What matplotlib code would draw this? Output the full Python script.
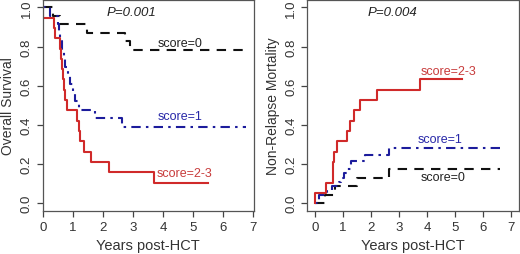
import matplotlib
matplotlib.use("Agg")
import matplotlib.pyplot as plt

plt.rcParams['font.family'] = ['Liberation Sans', 'DejaVu Sans']

# ---- Overall survival (left panel) ----
os0_t = [0.0, 0.33, 0.58, 1.47, 2.72, 2.9, 6.66]
os0_v = [1.0, 0.957, 0.913, 0.870, 0.826, 0.783, 0.783]

os1_t = [0.0, 0.25, 0.5, 0.53, 0.58, 0.64, 0.7, 0.75, 0.85, 0.92, 1.0, 1.07, 1.2, 1.74, 2.63, 6.78]
os1_v = [1.0, 0.957, 0.913, 0.870, 0.826, 0.783, 0.739, 0.696, 0.652, 0.609, 0.565, 0.522, 0.478, 0.435, 0.391, 0.391]

os2_t = [0.0, 0.02, 0.36, 0.42, 0.56, 0.6, 0.64, 0.68, 0.7, 0.75, 0.8, 1.13, 1.2, 1.25, 1.38, 1.61, 2.22, 3.71, 5.51]
os2_v = [1.0, 0.947, 0.895, 0.842, 0.789, 0.737, 0.684, 0.632, 0.579, 0.526, 0.474, 0.421, 0.368, 0.316, 0.263, 0.211, 0.158, 0.105, 0.105]

# ---- Non-relapse mortality (right panel) ----
nrm0_t = [0.0, 0.35, 0.72, 1.5, 2.64, 6.62]
nrm0_v = [0.0, 0.043, 0.087, 0.130, 0.174, 0.174]

nrm1_t = [0.0, 0.15, 0.45, 0.6, 0.85, 0.95, 1.05, 1.15, 1.28, 1.78, 2.63, 6.72]
nrm1_v = [0.0, 0.043, 0.065, 0.087, 0.109, 0.130, 0.152, 0.174, 0.217, 0.245, 0.280, 0.280]

nrm2_t = [0.0, 0.0, 0.39, 0.63, 0.66, 0.7, 0.78, 1.16, 1.26, 1.38, 1.6, 2.23, 3.74, 5.26]
nrm2_v = [0.0, 0.053, 0.105, 0.158, 0.211, 0.263, 0.316, 0.368, 0.421, 0.474, 0.526, 0.579, 0.632, 0.632]

x_ticks = [0, 1, 2, 3, 4, 5, 6, 7]
y_ticks = [0.0, 0.2, 0.4, 0.6, 0.8, 1.0]
y_ticklabels = ["0.0", "0.2", "0.4", "0.6", "0.8", "1.0"]

labels = ["score=0", "score=1", "score=2-3"]
RED = "#d02a2a"
BLUE = "#1c1c9c"
BLACK = "#111111"
colors = [BLACK, BLUE, RED]
dash0 = (0, (4.5, 3.5))
dash1 = (0, (1.2, 2.5, 4.5, 2.5))
styles = [dash0, dash1, "-"]

fig = plt.figure(figsize=(5.2, 2.55), dpi=100)
axL = fig.add_axes([42.5/520, (255-212)/255, 211.5/520, 211.5/255])
axR = fig.add_axes([307/520, (255-212)/255, 212/520, 211.5/255])

def style(ax, ylabel, xlim):
    ax.set_xlim(*xlim)
    ax.set_ylim(-0.04, 1.04)
    ax.set_xticks(x_ticks)
    ax.set_yticks(y_ticks)
    ax.set_yticklabels(y_ticklabels, rotation=90, va="center")
    ax.tick_params(direction="out", length=4, width=0.9, colors="#444444",
                   labelcolor="#333333", labelsize=9.5, pad=3)
    for s in ax.spines.values():
        s.set_color("#555555")
        s.set_linewidth(0.9)
    ax.set_xlabel("Years post-HCT", fontsize=10.5, color="#333333", labelpad=4)
    ax.set_ylabel(ylabel, fontsize=10, color="#333333", labelpad=4)

LW = 1.5
for t, v, c, ls in zip([os0_t, os1_t, os2_t], [os0_v, os1_v, os2_v], colors, styles):
    axL.step(t, v, where="post", color=c, linestyle=ls, lw=LW)
for t, v, c, ls in zip([nrm0_t, nrm1_t, nrm2_t], [nrm0_v, nrm1_v, nrm2_v], colors, styles):
    axR.step(t, v, where="post", color=c, linestyle=ls, lw=LW)

style(axL, "Overall Survival", (-0.01, 7.03))
style(axR, "Non-Relapse Mortality", (-0.28, 7.28))

axL.text(2.96, 0.974, "P=0.001", style="italic", fontsize=9.5, ha="center", va="center", color="#222222")
axR.text(2.77, 0.974, "P=0.004", style="italic", fontsize=9.5, ha="center", va="center", color="#222222")

txtL = [(4.57, 0.82), (4.57, 0.443), (4.71, 0.153)]
txtR = [(4.58, 0.134), (4.48, 0.327), (4.78, 0.676)]
tcol = ["#222222", "#2828a8", "#c83c3c"]
for (x, y), lab, c in zip(txtL, labels, tcol):
    axL.text(x, y, lab, fontsize=9, ha="center", va="center", color=c)
for (x, y), lab, c in zip(txtR, labels, tcol):
    axR.text(x, y, lab, fontsize=9, ha="center", va="center", color=c)

fig.savefig("out.png", dpi=100)
